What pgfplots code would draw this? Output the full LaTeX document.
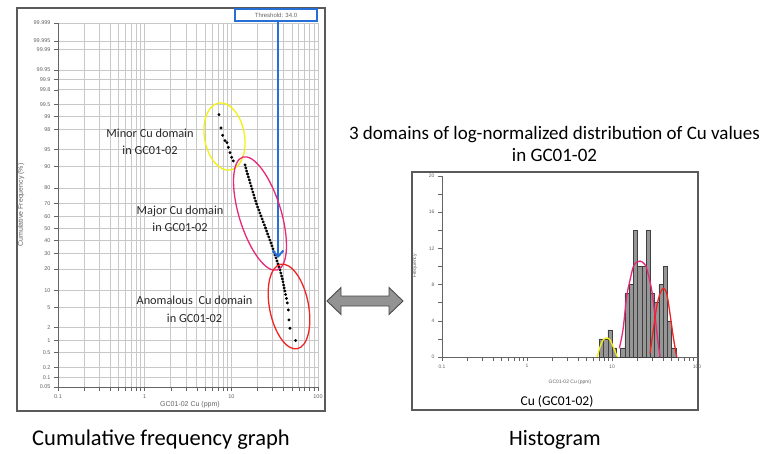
\documentclass[border=0pt]{standalone}
\usepackage{fontspec}
\setmainfont{Carlito}
\newfontfamily\arial{Liberation Sans}
\usepackage{pgfplots}
\pgfplotsset{compat=1.18}
\usetikzlibrary{arrows.meta}
\definecolor{gridgray}{RGB}{200,200,200}
\definecolor{tickgray}{RGB}{100,100,100}
\definecolor{framegray}{RGB}{90,90,90}
\definecolor{threshblue}{RGB}{40,110,215}
\definecolor{ellyellow}{RGB}{245,240,20}
\definecolor{ellpink}{RGB}{232,40,120}
\definecolor{ellred}{RGB}{240,35,35}
\definecolor{bargray}{RGB}{150,150,150}
\definecolor{txt}{RGB}{40,40,40}

\pgfplotstableread{
x y
7.20 2.362
7.60 2.086
7.95 1.934
8.45 1.822
8.91 1.781
9.23 1.685
9.65 1.573
10.10 1.478
10.53 1.401
14.38 1.318
14.69 1.256
15.00 1.193
15.37 1.131
15.73 1.069
16.12 1.007
16.51 0.944
16.90 0.882
17.31 0.820
17.73 0.758
18.16 0.695
18.60 0.633
19.05 0.571
19.56 0.509
20.14 0.446
20.75 0.384
21.36 0.322
21.99 0.259
22.64 0.197
23.32 0.135
24.07 0.073
24.79 0.010
25.51 -0.052
26.27 -0.114
27.05 -0.176
27.86 -0.239
28.69 -0.301
29.45 -0.363
30.25 -0.425
31.06 -0.488
31.90 -0.550
32.76 -0.612
33.64 -0.675
34.54 -0.737
35.48 -0.799
36.43 -0.861
37.21 -0.924
38.01 -0.986
38.73 -1.048
39.46 -1.110
40.09 -1.173
40.74 -1.235
41.39 -1.297
42.27 -1.370
43.29 -1.453
44.23 -1.546
45.41 -1.692
46.27 -1.899
47.51 -2.071
55.29 -2.325
}\cumdata

\pgfplotstableread{
x h
7.079 2
7.943 2
8.913 3
10.00 1
11.22 0
12.59 1
14.13 7
15.85 8
17.78 14
19.95 10
22.39 10
25.12 14
28.18 7
31.62 6
35.48 8
39.81 10
44.67 4
50.12 1
56.23 0
}\histdata

\begin{document}
\begin{tikzpicture}[x=1pt,y=1pt]
\path[use as bounding box, fill=white] (0,0) rectangle (763,453);
\draw[framegray, line width=1.6pt] (17,42) rectangle (325,445);
\draw[framegray, line width=1.6pt] (412,43) rectangle (698,281);

\begin{axis}[
  at={(58pt,66pt)}, anchor=south west, scale only axis,
  width=260pt, height=364pt,
  xmode=log, xmin=0.1, xmax=100,
  ymin=-3.2905, ymax=4.2649,
  axis x line*=bottom, axis y line*=left,
  axis line style={tickgray, line width=0.6pt, -},
  grid=both,
  major grid style={gridgray, line width=0.7pt},
  minor grid style={gridgray, line width=0.7pt},
  xtick={0.1,1,10,100}, xticklabels={0.1,1,10,100},
  minor xtick={0.2,0.3,0.4,0.5,0.6,0.7,0.8,0.9,2,3,4,5,6,7,8,9,20,30,40,50,60,70,80,90},
  ytick={-3.2905,-3.0902,-2.8782,-2.5758,-2.3263,-2.0537,-1.6449,-1.2816,-0.8416,-0.5244,-0.2533,0,0.2533,0.5244,0.8416,1.2816,1.6449,2.0537,2.3263,2.5758,2.8782,3.0902,3.2905,3.7190,3.8906,4.2649},
  yticklabels={0.05,0.1,0.2,0.5,1,2,5,10,20,30,40,50,60,70,80,90,95,98,99,99.5,99.8,99.9,99.95,99.99,99.995,99.999},
  tick align=outside, major tick length=4pt, minor tick length=4pt,
  tick style={tickgray, line width=0.5pt},
  ticklabel style={font=\arial\fontsize{5.5}{6}\selectfont, text=tickgray},
  /pgf/number format/assume math mode=true,
  clip=false,
]
\addplot[only marks, mark=*, mark size=1.25pt, black] table[x=x,y=y] {\cumdata};
\end{axis}

\begin{axis}[
  at={(442pt,96pt)}, anchor=south west, scale only axis,
  width=255pt, height=181pt,
  xmode=log, xmin=0.1, xmax=100, ymin=0, ymax=20,
  axis x line*=bottom, axis y line*=left,
  axis line style={tickgray, line width=0.6pt, -},
  xtick={0.1,1,10,100}, xticklabels={0.1,1,10,100},
  minor xtick={0.2,0.3,0.4,0.5,0.6,0.7,0.8,0.9,2,3,4,5,6,7,8,9,20,30,40,50,60,70,80,90},
  ytick={0,4,8,12,16,20}, minor ytick={2,6,10,14,18},
  tick align=outside, major tick length=4pt, minor tick length=4pt,
  tick style={tickgray, line width=0.5pt},
  ticklabel style={font=\arial\fontsize{5}{6}\selectfont, text=tickgray},
  /pgf/number format/assume math mode=true,
  clip=false,
]
\addplot[ybar interval, fill=bargray, draw=black!75, line width=0.5pt] table[x=x,y=h] {\histdata};
\addplot[ellyellow, line width=1.3pt, smooth] coordinates {(6.71,0) (7.22,1.1) (7.90,1.9) (8.66,2.1) (9.47,1.9) (10.36,1.1) (11.54,0)};
\addplot[ellpink, line width=1.3pt, smooth] coordinates {(12.19,0.96) (13.46,3.0) (14.89,6.7) (16.29,8.5) (17.82,10.0) (19.54,10.5) (21.33,10.6) (23.33,10.4) (25.59,9.8) (29.31,7.4) (32.06,4.5) (34.28,2.1) (36.73,0.03)};
\addplot[ellred, line width=1.3pt, smooth] coordinates {(27.99,0.4) (30.62,3.0) (33.57,5.6) (36.73,7.0) (40.18,7.6) (44.06,7.0) (48.08,4.8) (52.60,2.2) (57.68,0)};
\end{axis}

% threshold line and box
\draw[threshblue, line width=2pt, -{Straight Barb[length=6pt,width=11pt]}] (278,432) -- (278,195);
\draw[threshblue, line width=1.6pt, fill=white] (235,432) rectangle (317,444);
\node[font=\arial\fontsize{6}{7}\selectfont, text=tickgray] at (276,438) {Threshold: 34.0};

% ellipses
\draw[ellyellow, line width=1.3pt, rotate around={10:(224.5,316.5)}] (224.5,316.5) ellipse [x radius=20, y radius=34];
\draw[ellpink, line width=1.3pt, rotate around={17:(260,239.5)}] (260,239.5) ellipse [x radius=21, y radius=59];
\draw[ellred, line width=1.3pt, rotate around={11:(289,146.5)}] (289,146.5) ellipse [x radius=19.5, y radius=43];

% axis labels
\node[rotate=90, font=\arial\fontsize{7}{8}\selectfont, text=tickgray] at (21,248) {Cumulative Frequency (\%)};
\node[font=\arial\fontsize{7}{8}\selectfont, text=tickgray] at (190,48) {GC01-02 Cu (ppm)};
\node[rotate=90, font=\arial\fontsize{5}{6}\selectfont, text=tickgray] at (415,187) {Frequency};
\node[font=\arial\fontsize{5}{6}\selectfont, text=tickgray] at (570,71) {GC01-02 Cu (ppm)};

% annotations
\node[align=center, text=txt, font=\fontsize{12.3}{17}\selectfont] at (150,311.5) {Minor Cu domain\\in GC01-02};
\node[align=center, text=txt, font=\fontsize{12.3}{17}\selectfont] at (180,234.5) {Major Cu domain\\in GC01-02};
\node[align=center, text=txt, font=\fontsize{12.3}{18}\selectfont] at (194.5,144) {Anomalous\ \ Cu domain\\in GC01-02};
\node[align=center, text=black, font=\fontsize{19}{22}\selectfont] at (554.5,309) {3 domains of log-normalized distribution of Cu values\\in GC01-02};
\node[text=black, font=\fontsize{13.5}{15}\selectfont] at (557,52) {Cu (GC01-02)};
\node[text=black, font=\fontsize{22.5}{24}\selectfont] at (161,13) {Cumulative frequency graph};
\node[text=black, font=\fontsize{22}{24}\selectfont] at (555,13) {Histogram};

% double arrow
\draw[fill=gray!85, draw=black!70, line width=0.9pt] (327,152) -- (341,165.5) -- (341,157) -- (389,157) -- (389,165.5) -- (403,152) -- (389,138.5) -- (389,147) -- (341,147) -- (341,138.5) -- cycle;
\end{tikzpicture}
\end{document}
